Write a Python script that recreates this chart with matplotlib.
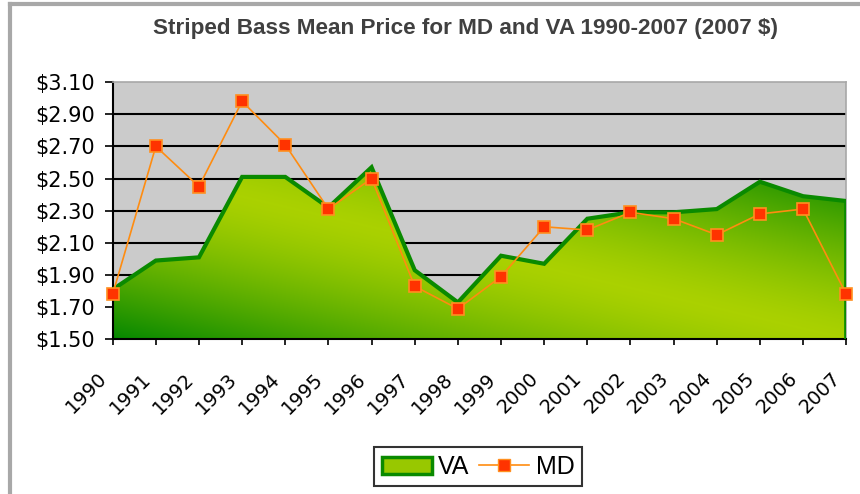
import numpy as np
import matplotlib
matplotlib.use("Agg")
import matplotlib.pyplot as plt
from matplotlib.lines import Line2D
from matplotlib.patches import Polygon, Patch
from matplotlib.transforms import ScaledTranslation

years = [str(y) for y in range(1990, 2008)]
va_price = [1.81, 1.99, 2.01, 2.51, 2.51, 2.32, 2.57, 1.93, 1.73, 2.02,
            1.97, 2.25, 2.29, 2.29, 2.31, 2.48, 2.39, 2.36]
md_price = [1.78, 2.70, 2.45, 2.98, 2.71, 2.31, 2.50, 1.83, 1.69, 1.89,
            2.20, 2.18, 2.29, 2.25, 2.15, 2.28, 2.31, 1.78]
y_ticks = [1.50, 1.70, 1.90, 2.10, 2.30, 2.50, 2.70, 2.90, 3.10]
title = "Striped Bass Mean Price for MD and VA 1990-2007 (2007 $)"

fig = plt.figure(figsize=(8.6, 4.94), dpi=100)
ax = fig.add_axes([0.131, 0.313, 0.853, 0.521])
ax.set_facecolor("#cbcbcb")

x = np.arange(len(years))
ymin, ymax = y_ticks[0], y_ticks[-1]

# gridlines between bottom and top
for t in y_ticks[1:-1]:
    ax.axhline(t, color="black", lw=1.5, zorder=1)

# gradient fill for VA area, clipped by the area polygon
verts = [(x[0], ymin)] + list(zip(x, va_price)) + [(x[-1], ymin)]
poly = Polygon(verts, closed=True, facecolor="none", edgecolor="none")
ax.add_patch(poly)
top = max(va_price)
gx, gy = np.meshgrid(np.linspace(0, 1, 400), np.linspace(0, 1, 200))
s = (gx + gy) / 2.0
d = np.clip(np.abs(s - 0.5) * 2, 0, 1) ** 1.4
light = np.array([0.667, 0.820, 0.0])
dark = np.array([0.02, 0.53, 0.0])
img = light[None, None, :] * (1 - d[..., None]) + dark[None, None, :] * d[..., None]
im = ax.imshow(img, origin="lower", extent=[x[0], x[-1], ymin, top],
               aspect="auto", interpolation="bilinear", zorder=2)
im.set_clip_path(poly)
ax.plot(list(x) + [x[-1]], va_price + [ymin], color="#0a8a00", lw=3,
        solid_joinstyle="miter", zorder=3)
ax.plot(x, md_price, color="#ff8c10", lw=1.2, marker="s", markersize=8.5,
        markerfacecolor="#ff3300", markeredgecolor="#ff9020",
        markeredgewidth=1.2, zorder=4, clip_on=False)

ax.set_xlim(x[0], x[-1])
ax.set_ylim(ymin, ymax)
ax.set_yticks(y_ticks)
ax.set_yticklabels(["${:.2f}".format(t) for t in y_ticks],
                   fontfamily="DejaVu Sans", fontsize=15)
ax.set_xticks(x)
ax.set_xticklabels(years, rotation=45, ha="right", va="top",
                   rotation_mode="anchor", fontfamily="DejaVu Sans",
                   fontsize=14)
ax.tick_params(axis="y", direction="out", length=5.5, width=1.2, pad=7)
ax.tick_params(axis="x", direction="out", length=4.3, width=1.2, pad=17)
offset = ScaledTranslation(-15 / 100, 0, fig.dpi_scale_trans)
for lab in ax.get_xticklabels():
    lab.set_transform(lab.get_transform() + offset)

for side in ["left", "bottom"]:
    ax.spines[side].set_color("black")
    ax.spines[side].set_linewidth(1.5)
for side in ["top", "right"]:
    ax.spines[side].set_color("#a8a8a8")
    ax.spines[side].set_linewidth(1.2)

fig.text(0.541, 0.943, title, ha="center", va="center", fontsize=16.2,
         fontweight="bold", color="#404040",
         family=["Liberation Sans Narrow", "Arial Narrow", "Liberation Sans"])

handles = [Patch(facecolor="#98c800", edgecolor="#0a8a00", linewidth=2.5),
           Line2D([], [], color="#ff8c10", lw=1.2, marker="s", markersize=8.5,
                  markerfacecolor="#ff3300", markeredgecolor="#ff9020")]
leg = fig.legend(handles, ["VA", "MD"], loc="center", ncol=2,
                 bbox_to_anchor=(0.556, 0.0547),
                 prop={"family": "Liberation Sans", "size": 18},
                 handlelength=2.0, handleheight=0.65, handletextpad=0.25,
                 columnspacing=0.4, borderpad=0.3, frameon=True,
                 fancybox=False)
leg.get_frame().set_edgecolor("black")
leg.get_frame().set_linewidth(1.5)

# outer chart frame (left and top edges visible)
fig.add_artist(Line2D([10 / 860, 10 / 860], [0, 1 - 4.5 / 494],
                      transform=fig.transFigure, color="#a8a8a8", lw=3))
fig.add_artist(Line2D([10 / 860, 1], [1 - 4.5 / 494, 1 - 4.5 / 494],
                      transform=fig.transFigure, color="#a8a8a8", lw=3))

fig.savefig("out.png", dpi=100)
